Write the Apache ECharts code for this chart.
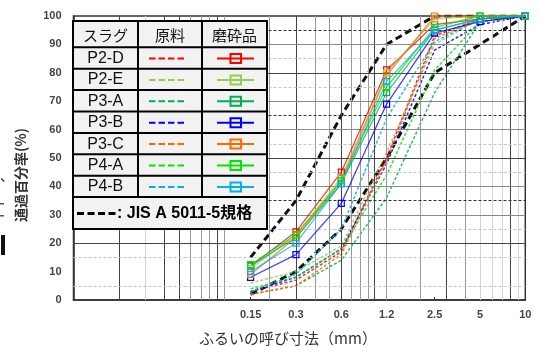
<!DOCTYPE html>
<html>
<head>
<meta charset="utf-8">
<script src="https://cdn.jsdelivr.net/npm/echarts@6/dist/echarts.min.js"></script>
<style>
  html, body { margin: 0; padding: 0; background: #fff; }
  #chart { width: 540px; height: 347px; }
</style>
</head>
<body>
<div id="chart"></div>
<script>
// ふるい目 (mm)
const sieveSizes = [0.15, 0.3, 0.6, 1.2, 2.5, 5, 10];
const slagNames = ["P2-D", "P2-E", "P3-A", "P3-B", "P3-C", "P4-A", "P4-B"];
const slagColors = ["#ff0000", "#92d050", "#00b050", "#0000ff", "#ff6a00", "#00e600", "#00b0f0"];

// 原料 (点線)
const rawP2D = [3, 7, 17, 50, 93, 99, 100];
const rawP2E = [6, 10, 19, 52, 90, 99, 100];
const rawP3A = [2, 5, 14, 36, 73, 98, 100];
const rawP3B = [3, 8, 18, 48, 88, 97, 100];
const rawP3C = [2, 5, 16, 49, 92, 99, 100];
const rawP4A = [4, 8, 18, 44, 81, 98, 100];
const rawP4B = [3, 9, 25, 64, 91, 99, 100];

// 磨砕品 (実線 + □)
const crushedP2D = [12, 24, 45, 81, 97, 99, 100];
const crushedP2E = [11, 23, 43, 80, 99, 100, 100];
const crushedP3A = [12, 22, 41, 73, 95, 99, 100];
const crushedP3B = [8, 16, 34, 69, 94, 98, 100];
const crushedP3C = [9, 22, 42, 79, 100, 100, 100];
const crushedP4A = [12.5, 23, 42, 75, 96, 100, 100];
const crushedP4B = [10, 20, 41, 77, 95, 99, 100];

// JIS A 5011-5 規格
const jisUpper = [15, 35, 65, 90, 100, 100, 100];
const jisLower = [2, 10, 25, 50, 80, 90, 100];

// 方眼線
const gridXDark = [0.02, 0.04, 0.05, 0.09, 0.3, 0.6, 1, 3, 8];
const gridXGray = [0.06, 0.07, 0.08, 0.1, 0.2, 0.4, 0.5, 0.7, 0.8, 0.9, 1.2, 2, 4];
const gridXLight = [0.03, 5, 6, 7, 9];
const gridYDark = [20, 50, 80];
const gridYGray = [30, 40, 60, 70, 90];
const gridYDarkDash = [35, 65, 95];
const gridYLightDash = [5, 15, 25, 45, 55, 75, 85];

const rawList = [rawP2D, rawP2E, rawP3A, rawP3B, rawP3C, rawP4A, rawP4B];
const crushedList = [crushedP2D, crushedP2E, crushedP3A, crushedP3B, crushedP3C, crushedP4A, crushedP4B];

const toPoints = (vals) => sieveSizes.map((x, i) => [x, vals[i]]);

const gridMark = (vals, axis, color, type) =>
  vals.map((v) => ({ [axis]: v, lineStyle: { color: color, type: type, width: 1 } }));

const series = [];
series.push({
  type: "line",
  data: [],
  silent: true,
  z: 1,
  markLine: {
    symbol: "none",
    silent: true,
    animation: false,
    label: { show: false },
    emphasis: { disabled: true },
    data: [].concat(
      gridMark(gridXLight, "xAxis", "#d4d4d4", "solid"),
      gridMark(gridXGray, "xAxis", "#9a9a9a", "solid"),
      gridMark(gridXDark, "xAxis", "#444", "solid"),
      gridMark(gridYLightDash, "yAxis", "#c4c4c4", [3, 2]),
      gridMark(gridYGray, "yAxis", "#8a8a8a", "solid"),
      gridMark(gridYDark, "yAxis", "#444", "solid"),
      gridMark(gridYDarkDash, "yAxis", "#333", [3, 2])
    ),
  },
});

// JIS 規格線
[jisUpper, jisLower].forEach((vals) => {
  series.push({
    type: "line",
    data: toPoints(vals),
    symbol: "none",
    z: 3,
    lineStyle: { color: "#111", width: 3, type: [7, 4] },
  });
});

slagNames.forEach((name, i) => {
  series.push({
    name: name + " 原料",
    type: "line",
    data: toPoints(rawList[i]),
    symbol: "none",
    z: 4,
    lineStyle: { color: slagColors[i], width: 1.5, type: [3, 2], opacity: 0.85 },
  });
  series.push({
    name: name + " 磨砕品",
    type: "line",
    data: toPoints(crushedList[i]),
    symbol: "rect",
    symbolSize: 6,
    z: 5,
    lineStyle: { color: slagColors[i], width: 1.3, opacity: 0.75 },
    itemStyle: { color: "rgba(0,0,0,0)", borderColor: slagColors[i], borderWidth: 1.2 },
  });
});

// 凡例表
const tx = [73, 138, 202, 267];
const headTop = 21, rowTop = 47.3, rowH = 21.4, tableBottom = 229;
const jp = '"Noto Sans CJK JP", sans-serif';
const latin = '"Liberation Sans", Arial, sans-serif';
const legendEls = [];
legendEls.push({
  type: "rect",
  shape: { x: tx[0], y: headTop, width: tx[3] - tx[0], height: tableBottom - headTop },
  style: { fill: "#f2f2f2", stroke: "#000", lineWidth: 2 },
});
const lastRow = rowTop + rowH * slagNames.length;
[tx[1], tx[2]].forEach((x) => {
  legendEls.push({ type: "line", shape: { x1: x, y1: headTop, x2: x, y2: lastRow }, style: { stroke: "#000", lineWidth: 2 } });
});
for (let i = 0; i <= slagNames.length; i++) {
  const y = rowTop + rowH * i;
  legendEls.push({ type: "line", shape: { x1: tx[0], y1: y, x2: tx[3], y2: y }, style: { stroke: "#000", lineWidth: 2 } });
}
["スラグ", "原料", "磨砕品"].forEach((t, c) => {
  legendEls.push({
    type: "text",
    x: (tx[c] + tx[c + 1]) / 2, y: (headTop + rowTop) / 2 + 1,
    style: { text: t, font: "15px " + jp, fill: "#111", align: "center", verticalAlign: "middle" },
  });
});
slagNames.forEach((name, i) => {
  const cy = rowTop + rowH * i + rowH / 2 + 0.5;
  legendEls.push({
    type: "text",
    x: (tx[0] + tx[1]) / 2, y: cy,
    style: { text: name, font: "16px " + latin, fill: "#111", align: "center", verticalAlign: "middle" },
  });
  legendEls.push({
    type: "line",
    shape: { x1: 149, y1: cy, x2: 185, y2: cy },
    style: { stroke: slagColors[i], lineWidth: 2, lineDash: [6.5, 3] },
  });
  legendEls.push({
    type: "line",
    shape: { x1: 217, y1: cy, x2: 254, y2: cy },
    style: { stroke: slagColors[i], lineWidth: 2 },
  });
  legendEls.push({
    type: "rect",
    shape: { x: 230.5, y: cy - 4.5, width: 10.5, height: 9 },
    style: { fill: "rgba(0,0,0,0)", stroke: slagColors[i], lineWidth: 2 },
  });
});
const jisY = (lastRow + tableBottom) / 2 + 0.5;
legendEls.push({
  type: "line",
  shape: { x1: 77, y1: jisY, x2: 116, y2: jisY },
  style: { stroke: "#000", lineWidth: 3, lineDash: [7, 3.5] },
});
legendEls.push({
  type: "text",
  x: 117, y: jisY,
  style: {
    text: ": JIS A 5011-5規格", font: "bold 16px " + latin + ', "Noto Sans CJK JP"',
    fill: "#000", align: "left", verticalAlign: "middle",
  },
});
legendEls.forEach((el) => { el.z = 100; el.zlevel = 1; });

const option = {
  animation: false,
  grid: {
    left: 73.5, right: 14.7, top: 16, bottom: 47,
    show: true, borderColor: "#333", borderWidth: 1.5,
  },
  xAxis: {
    type: "log",
    logBase: 10,
    min: 0.01,
    max: 10,
    axisLine: { lineStyle: { color: "#333", width: 1.5 } },
    axisTick: { customValues: sieveSizes, inside: true, length: 3, lineStyle: { color: "#333" } },
    axisLabel: {
      customValues: sieveSizes,
      formatter: (v) => String(v),
      color: "#444",
      fontWeight: "bold",
      fontSize: 11,
      fontFamily: latin,
      margin: 9,
    },
    splitLine: { show: false },
    minorTick: { show: false },
  },
  yAxis: {
    type: "value",
    min: 0,
    max: 100,
    interval: 10,
    axisLine: { show: true, lineStyle: { color: "#333", width: 1.5 } },
    axisTick: { show: false },
    axisLabel: { color: "#444", fontWeight: "bold", fontSize: 11, fontFamily: latin, margin: 12 },
    splitLine: { show: false },
  },
  graphic: [
    { type: "group", z: 100, zlevel: 1, children: legendEls },
    {
      type: "text", x: 21, y: 175, rotation: Math.PI / 2, z: 100,
      style: { text: "通過百分率(%)", font: "bold 14px " + jp, fill: "#333", align: "center", verticalAlign: "middle" },
    },
    {
      type: "text", x: 288, y: 338, z: 100,
      style: { text: "ふるいの呼び寸法（mm）", font: "15px " + jp, fill: "#333", align: "center", verticalAlign: "middle" },
    },
    { type: "text", x: 7, y: 176, style: { text: "、", font: "14px " + jp, fill: "#333", align: "center", verticalAlign: "middle" } },
    { type: "rect", shape: { x: 0, y: 203, width: 4, height: 1.5 }, style: { fill: "#555" } },
    { type: "rect", shape: { x: 0, y: 215, width: 4, height: 1.5 }, style: { fill: "#555" } },
    { type: "rect", shape: { x: 1, y: 235, width: 4, height: 20 }, style: { fill: "#111" } },
  ],
  series: series,
};

const chart = echarts.init(document.getElementById("chart"));
chart.setOption(option);
</script>
</body>
</html>
